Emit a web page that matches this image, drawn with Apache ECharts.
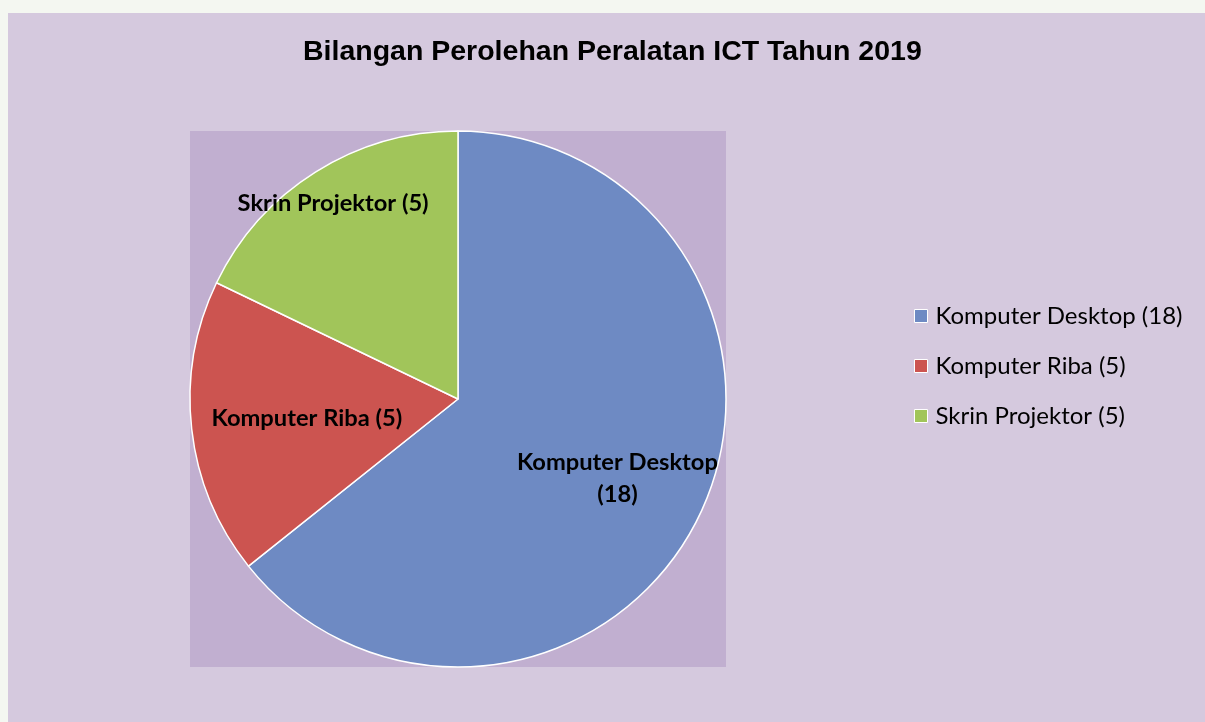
<!DOCTYPE html>
<html>
<head>
<meta charset="utf-8">
<script src="https://cdn.jsdelivr.net/npm/echarts@6/dist/echarts.min.js"></script>
<style>
  html, body { margin: 0; padding: 0; background: #f4f7f1; }
  #chart { position: absolute; left: 8px; top: 13px; width: 1197px; height: 709px; }
</style>
</head>
<body>
<div id="chart"></div>
<script>
// data
var categories = ['Komputer Desktop', 'Komputer Riba', 'Skrin Projektor'];
var values = [18, 5, 5];
var colors = ['#6e8ac3', '#cc5450', '#a1c55a'];

// label nudges (px) relative to default inside position
var labelShift = [[36, 20], [-15, 4], [-52, -80]];

var chart = echarts.init(document.getElementById('chart'));

var cx = 450, cy = 386, r = 268;

var pieData = [];
for (var i = 0; i < categories.length; i++) {
  pieData.push({
    name: categories[i] + ' (' + values[i] + ')',
    value: values[i],
    itemStyle: { color: colors[i] }
  });
}

chart.setOption({
  backgroundColor: '#d5c9de',
  title: {
    text: 'Bilangan Perolehan Peralatan ICT Tahun 2019',
    left: 290,
    top: 20,
    textStyle: {
      fontFamily: 'Liberation Sans',
      fontWeight: 'bold',
      fontSize: 28.5,
      color: '#000'
    }
  },
  graphic: [{
    type: 'rect',
    z: -1,
    shape: { x: cx - r, y: cy - r, width: 2 * r, height: 2 * r },
    style: { fill: '#c1afd0' }
  }],
  legend: {
    orient: 'vertical',
    left: 901,
    top: 286,
    icon: 'rect',
    itemWidth: 13,
    itemHeight: 13,
    itemGap: 26,
    itemStyle: { borderColor: '#fff', borderWidth: 1 },
    textStyle: { fontFamily: 'Lato', fontSize: 24, color: '#000', padding: [0, 0, 0, 3] }
  },
  series: [{
    type: 'pie',
    center: [cx, cy],
    radius: r,
    startAngle: 90,
    clockwise: true,
    animation: false,
    data: pieData,
    itemStyle: { borderColor: '#fff', borderWidth: 1.5 },
    label: {
      position: 'inside',
      fontFamily: 'Lato',
      fontWeight: 'bold',
      fontSize: 23.7,
      color: '#000',
      align: 'center',
      lineHeight: 32,
      formatter: function (p) {
        var c = categories[p.dataIndex], v = values[p.dataIndex];
        return p.dataIndex === 0 ? c + '\n(' + v + ')' : c + ' (' + v + ')';
      }
    },
    labelLayout: function (p) {
      return { dx: labelShift[p.dataIndex][0], dy: labelShift[p.dataIndex][1] };
    },
    labelLine: { show: false },
    emphasis: { disabled: true }
  }]
});
</script>
</body>
</html>
